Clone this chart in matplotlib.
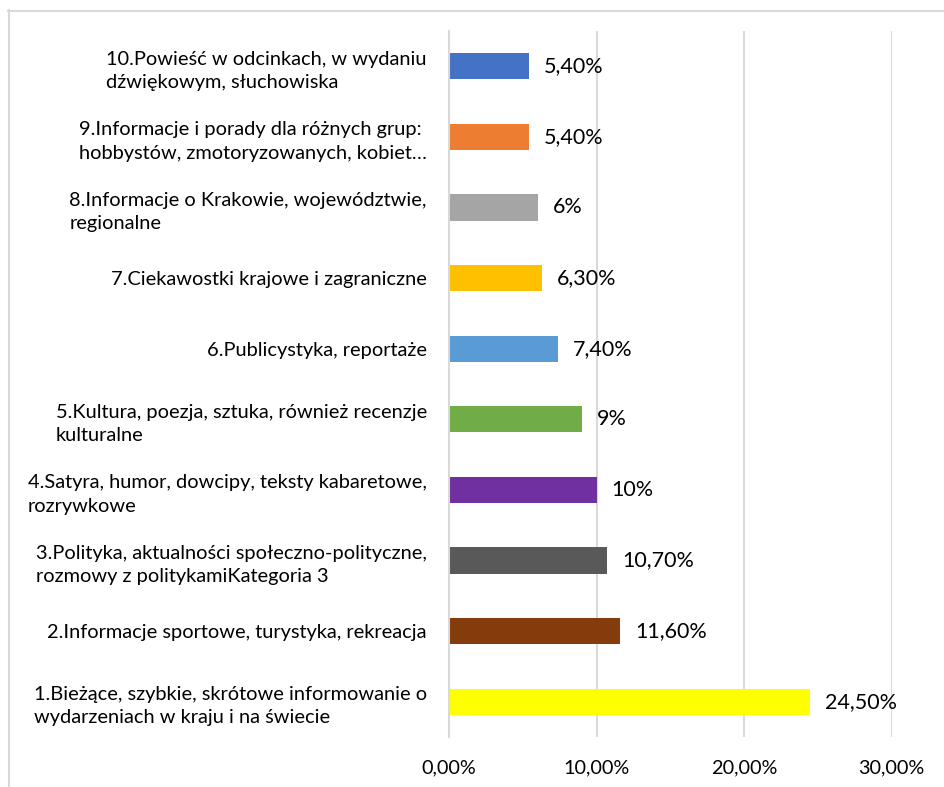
import matplotlib.pyplot as plt
from matplotlib.lines import Line2D
from matplotlib.ticker import FuncFormatter

CATEGORIES = [
    "1.Bieżące, szybkie, skrótowe informowanie o\nwydarzeniach w kraju i na świecie",
    "2.Informacje sportowe, turystyka, rekreacja",
    "3.Polityka, aktualności społeczno-polityczne,\nrozmowy z politykamiKategoria 3",
    "4.Satyra, humor, dowcipy, teksty kabaretowe,\nrozrywkowe",
    "5.Kultura, poezja, sztuka, również recenzje\nkulturalne",
    "6.Publicystyka, reportaże",
    "7.Ciekawostki krajowe i zagraniczne",
    "8.Informacje o Krakowie, województwie,\nregionalne",
    "9.Informacje i porady dla różnych grup:\nhobbystów, zmotoryzowanych, kobiet…",
    "10.Powieść w odcinkach, w wydaniu\ndźwiękowym, słuchowiska",
]
VALUES = [0.245, 0.116, 0.107, 0.10, 0.09, 0.074, 0.063, 0.06, 0.054, 0.054]
VALUE_LABELS = ["24,50%", "11,60%", "10,70%", "10%", "9%", "7,40%", "6,30%", "6%", "5,40%", "5,40%"]
COLORS = ["#FFFF00", "#843C0C", "#595959", "#7030A0", "#70AD47",
          "#5B9BD5", "#FFC000", "#A5A5A5", "#ED7D31", "#4472C4"]
X_TICKS = [0.0, 0.10, 0.20, 0.30]

GRID = "#D9D9D9"
TEXT = "#000000"

plt.rcParams["font.family"] = ["Lato", "DejaVu Sans"]

fig = plt.figure(figsize=(9.44, 7.87), dpi=100)
ax = fig.add_axes([449 / 944, 1 - 737 / 787, (891.5 - 449) / 944, (737 - 31) / 787])

pos = list(range(len(VALUES)))
ax.barh(pos, VALUES, height=0.37, color=COLORS, zorder=3)

for p, v, lab in zip(pos, VALUES, VALUE_LABELS):
    ax.annotate(lab, (v, p), xytext=(15, 0), textcoords="offset pixels",
                va="center", ha="left", fontsize=15.5, color=TEXT)

ax.set_ylim(-0.5, len(VALUES) - 0.5)
ax.set_xlim(0, 0.30)
ax.set_xticks(X_TICKS)
ax.xaxis.set_major_formatter(FuncFormatter(lambda x, _: f"{x * 100:.2f}%".replace(".", ",")))
ax.set_yticks(pos)
ax.set_yticklabels(CATEGORIES, multialignment="left", linespacing=1.45)
ax.tick_params(axis="y", length=0, pad=16, labelsize=14.4, colors=TEXT)
ax.tick_params(axis="x", length=0, pad=16, labelsize=14.3, colors=TEXT)

ax.grid(axis="x", color=GRID, linewidth=1.5, zorder=0)
for side in ["top", "right", "bottom"]:
    ax.spines[side].set_visible(False)
ax.spines["left"].set_color(GRID)
ax.spines["left"].set_linewidth(1.5)
ax.spines["left"].set_zorder(4)

# chart frame (partially cropped in the source image)
fig.add_artist(Line2D([8.5 / 944, 8.5 / 944], [0, 1 - 10 / 787], color=GRID, linewidth=1.5))
fig.add_artist(Line2D([8 / 944, 1], [1 - 10.5 / 787, 1 - 10.5 / 787], color=GRID, linewidth=1.5))

fig.savefig("out.png", dpi=100)
